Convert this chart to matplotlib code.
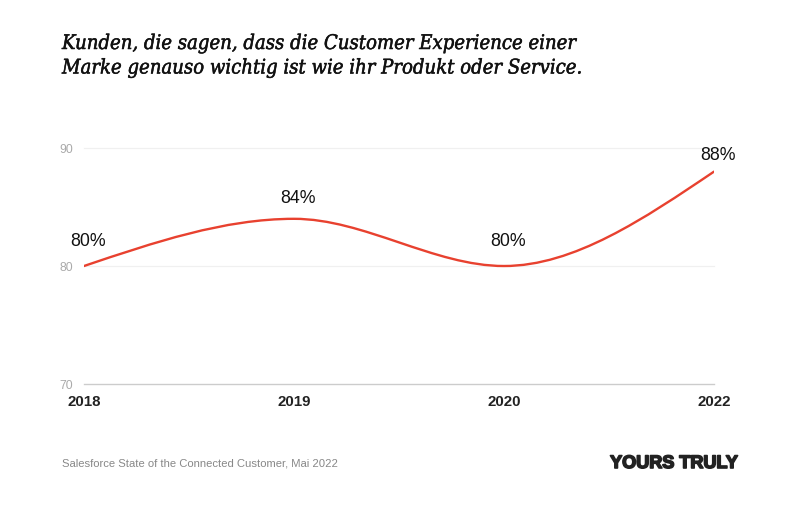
import numpy as np
import matplotlib
matplotlib.use("Agg")
import matplotlib.pyplot as plt
from matplotlib.path import Path
from matplotlib.patches import PathPatch
import matplotlib.patheffects as pe

years = ["2018", "2019", "2020", "2022"]
values = [80, 84, 80, 88]
labels = ["80%", "84%", "80%", "88%"]
yticks = [70, 80, 90]
title_lines = ["Kunden, die sagen, dass die Customer Experience einer",
               "Marke genauso wichtig ist wie ihr Produkt oder Service."]
source = "Salesforce State of the Connected Customer, Mai 2022"
brand = "YOURS TRULY"

RED = "#e8412f"

fig = plt.figure(figsize=(8, 5.05), dpi=100)
ax = fig.add_axes([0.105, 0.2396, 0.7875, 0.4673])

x = np.arange(len(years), dtype=float)
y = np.array(values, dtype=float)

# monotone-x cubic (d3 curveMonotoneX)
n = len(x)
t = np.zeros(n)
for i in range(1, n - 1):
    h0 = x[i] - x[i - 1]; h1 = x[i + 1] - x[i]
    s0 = (y[i] - y[i - 1]) / h0; s1 = (y[i + 1] - y[i]) / h1
    p = (s0 * h1 + s1 * h0) / (h0 + h1)
    t[i] = (np.sign(s0) + np.sign(s1)) * min(abs(s0), abs(s1), 0.5 * abs(p))
h = x[1] - x[0]
t[0] = (3 * (y[1] - y[0]) / h - t[1]) / 2
h = x[-1] - x[-2]
t[-1] = (3 * (y[-1] - y[-2]) / h - t[-2]) / 2
verts = [(x[0], y[0])]
codes = [Path.MOVETO]
for i in range(n - 1):
    dx = (x[i + 1] - x[i]) / 3
    verts += [(x[i] + dx, y[i] + dx * t[i]), (x[i + 1] - dx, y[i + 1] - dx * t[i + 1]), (x[i + 1], y[i + 1])]
    codes += [Path.CURVE4] * 3
ax.add_patch(PathPatch(Path(verts, codes), fill=False, edgecolor=RED, lw=1.7, capstyle="round", zorder=3))

ax.set_xlim(x[0], x[-1])
ax.set_ylim(70, 90)
for s in ax.spines.values():
    s.set_visible(False)
for yt in yticks:
    ax.axhline(yt, color="#cccccc" if yt == 70 else "#f0f0f0", lw=1.0 if yt == 70 else 0.9, zorder=1, clip_on=False)

ax.set_yticks(yticks)
ax.set_yticklabels([str(v) for v in yticks], color="#aaaaaa", fontsize=8.8, family="Liberation Sans")
ax.set_xticks(x)
ax.set_xticklabels(years, fontsize=10.8, fontweight="bold", color="#222222", family="Liberation Sans")
ax.tick_params(axis="y", length=0, pad=8)
ax.tick_params(axis="x", length=0, pad=8)

for xi, yi, lb in zip(x, y, labels):
    off_px = 20 - 1.1 * (yi - 80)
    ax.annotate(lb, (xi, yi), xytext=(3, off_px * 0.72), textcoords="offset points", ha="center", va="baseline",
                fontsize=12.8, color="#111111", family="Liberation Sans")

for k, line in enumerate(title_lines):
    fig.text(62 / 800, 1 - (49 + 24.5 * k) / 505, line, fontsize=14.5, style="italic", family="DejaVu Serif",
             fontstretch="condensed", color="#111111", va="baseline", ha="left",
             path_effects=[pe.withStroke(linewidth=0.35, foreground="#111111")])
fig.text(62 / 800, 1 - 467 / 505, source, fontsize=8.1, color="#888888", family="Liberation Sans", va="baseline")
fig.text(738 / 800, 1 - 468 / 505, brand, fontsize=13, fontweight="bold", color="#222222",
         family="Liberation Sans", va="baseline", ha="right",
         path_effects=[pe.withStroke(linewidth=1.2, foreground="#222222")])

fig.savefig("out.png", dpi=100, facecolor="white")
